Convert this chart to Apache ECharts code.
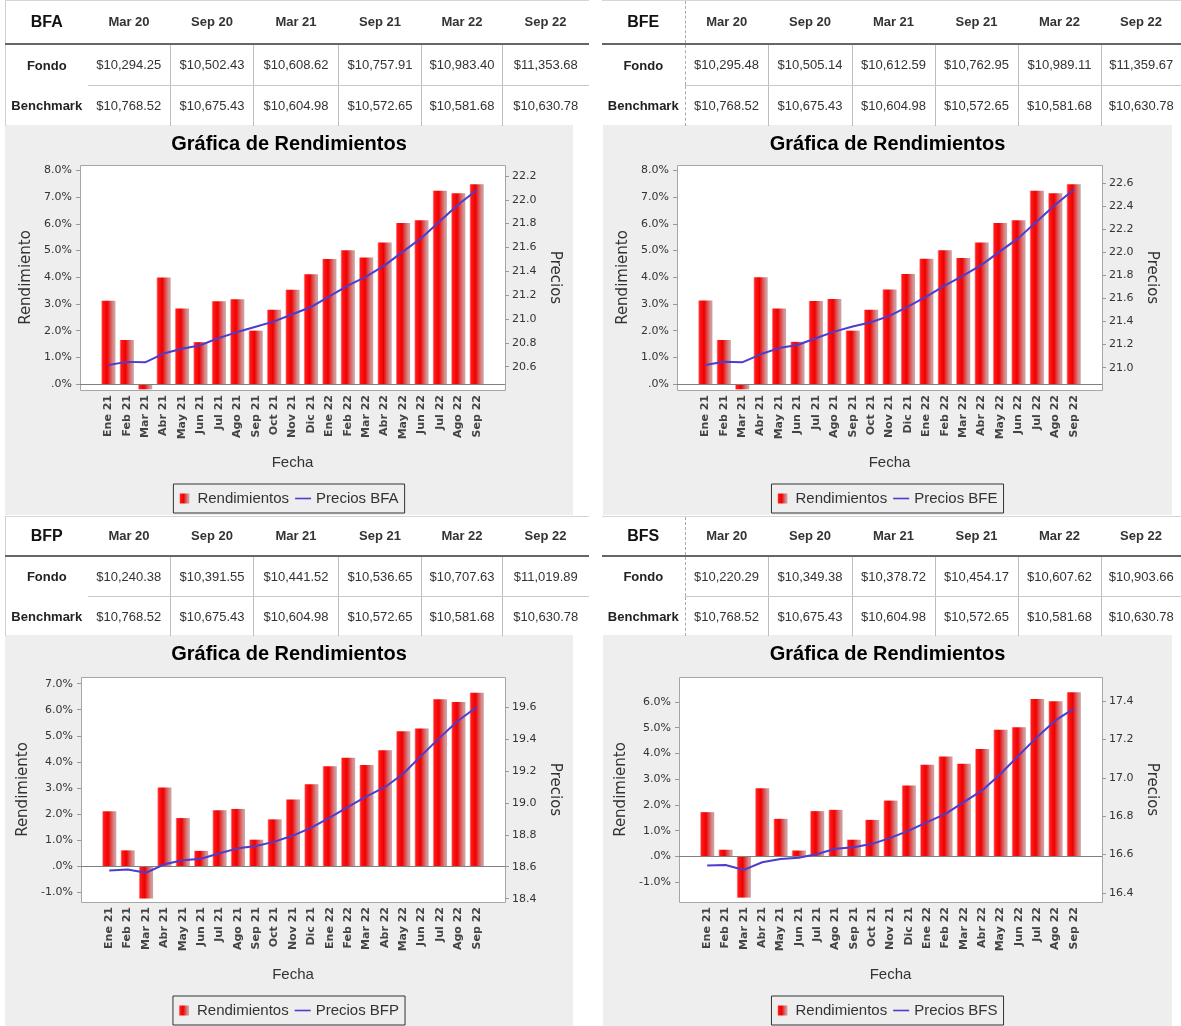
<!DOCTYPE html>
<html>
<head>
<meta charset="utf-8">
<title>Gráfica de Rendimientos</title>
<script src="https://cdn.jsdelivr.net/npm/echarts@6/dist/echarts.min.js"></script>
<style>
  body { margin: 0; width: 1181px; height: 1026px; background: #fff; position: relative; overflow: hidden;
         font-family: 'Liberation Sans', Arial, sans-serif; }
  .tabla { position: absolute; border-collapse: collapse; table-layout: fixed; color: #333; font-size: 13px; }
  .tabla th, .tabla td { padding: 0; text-align: center; white-space: nowrap; }
  .tabla th { font-weight: bold; border-bottom: 2px solid #666; }
  .tabla th.nom { font-size: 16px; color: #111; }
  .tabla td.lbl { font-weight: bold; color: #222; }
  .tabla tr.r1 td.v { border-bottom: 1px solid #c8c8c8; }
  .tabla td.sep { border-left: 1px solid #bdbdbd; }
  .tabla .punt { border-left: 1px dashed #aaa; }
  .chart { position: absolute; }
</style>
</head>
<body>
<div id="cBFA" class="chart" style="left:5px;top:125px;width:568px;height:390px"></div>
<div id="cBFE" class="chart" style="left:603px;top:125px;width:569px;height:390px"></div>
<div id="cBFP" class="chart" style="left:5px;top:635px;width:568px;height:391px"></div>
<div id="cBFS" class="chart" style="left:603px;top:635px;width:569px;height:391px"></div>
<script>
function $(id) {return document.getElementById(id)}

// tablas
var periodos = ['Mar 20', 'Sep 20', 'Mar 21', 'Sep 21', 'Mar 22', 'Sep 22'];
var benchmark = [10768.52, 10675.43, 10604.98, 10572.65, 10581.68, 10630.78];
var fondoBFA = [10294.25, 10502.43, 10608.62, 10757.91, 10983.40, 11353.68];
var fondoBFE = [10295.48, 10505.14, 10612.59, 10762.95, 10989.11, 11359.67];
var fondoBFP = [10240.38, 10391.55, 10441.52, 10536.65, 10707.63, 11019.89];
var fondoBFS = [10220.29, 10349.38, 10378.72, 10454.17, 10607.62, 10903.66];

// graficas
var meses = ['Ene 21', 'Feb 21', 'Mar 21', 'Abr 21', 'May 21', 'Jun 21', 'Jul 21', 'Ago 21', 'Sep 21',
  'Oct 21', 'Nov 21', 'Dic 21', 'Ene 22', 'Feb 22', 'Mar 22', 'Abr 22', 'May 22', 'Jun 22',
  'Jul 22', 'Ago 22', 'Sep 22'];

var rendBFA = [3.12, 1.65, -0.2, 3.99, 2.83, 1.57, 3.10, 3.18, 2.00, 2.78, 3.53, 4.11, 4.69, 5.01, 4.74, 5.30, 6.04, 6.14, 7.24, 7.15, 7.49];
var precBFA = [20.614, 20.640, 20.636, 20.710, 20.750, 20.780, 20.840, 20.890, 20.935, 20.980, 21.040,
  21.100, 21.190, 21.280, 21.355, 21.450, 21.565, 21.680, 21.820, 21.960, 22.080];

var rendBFE = [3.13, 1.65, -0.2, 4.00, 2.83, 1.58, 3.11, 3.19, 2.00, 2.78, 3.54, 4.12, 4.70, 5.01, 4.72, 5.30, 6.04, 6.14, 7.24, 7.15, 7.49];
var precBFE = [21.023, 21.052, 21.046, 21.116, 21.170, 21.197, 21.255, 21.313, 21.357, 21.394, 21.450,
  21.530, 21.617, 21.713, 21.800, 21.893, 22.010, 22.125, 22.270, 22.414, 22.545];

var rendBFP = [2.10, 0.60, -1.25, 3.01, 1.84, 0.58, 2.14, 2.19, 1.01, 1.79, 2.55, 3.14, 3.83, 4.16, 3.88, 4.44, 5.17, 5.28, 6.40, 6.30, 6.65];
var precBFP = [18.577, 18.583, 18.562, 18.615, 18.640, 18.650, 18.684, 18.715, 18.730, 18.757, 18.795,
  18.845, 18.907, 18.974, 19.040, 19.098, 19.182, 19.297, 19.410, 19.516, 19.600];

var rendBFS = [1.72, 0.26, -1.60, 2.65, 1.46, 0.23, 1.76, 1.81, 0.65, 1.42, 2.17, 2.76, 3.56, 3.88, 3.60, 4.17, 4.92, 5.02, 6.12, 6.03, 6.38];
var precBFS = [16.543, 16.546, 16.520, 16.560, 16.577, 16.583, 16.603, 16.630, 16.638, 16.656, 16.687,
  16.725, 16.769, 16.812, 16.873, 16.934, 17.020, 17.117, 17.212, 17.299, 17.360];

// marcas de ejes
var ticksRend8 = [0, 1, 2, 3, 4, 5, 6, 7, 8];
var ticksRendP = [-1, 0, 1, 2, 3, 4, 5, 6, 7];
var ticksRendS = [-1, 0, 1, 2, 3, 4, 5, 6];
var ticksPrecA = [20.6, 20.8, 21.0, 21.2, 21.4, 21.6, 21.8, 22.0, 22.2];
var ticksPrecE = [21.0, 21.2, 21.4, 21.6, 21.8, 22.0, 22.2, 22.4, 22.6];
var ticksPrecP = [18.4, 18.6, 18.8, 19.0, 19.2, 19.4, 19.6];
var ticksPrecS = [16.4, 16.6, 16.8, 17.0, 17.2, 17.4];

function dinero(v) {
  var p = v.toFixed(2).split('.');
  return '$' + p[0].replace(/\B(?=(\d{3})+(?!\d))/g, ',') + '.' + p[1];
}

function tabla(nombre, fondo, x, y, anchos, altos, punteada) {
  var t = document.createElement('table');
  t.className = 'tabla';
  t.style.left = x + 'px';
  t.style.top = y + 'px';
  t.style.width = anchos.reduce(function (a, b) {return a + b}, 0) + 'px';
  if (!punteada) {
    t.style.borderLeft = '1px solid #cfcfcf';
  }
  t.style.borderTop = '1px solid #d6d6d6';
  var h = '<colgroup>' + anchos.map(function (w) {return '<col style="width:' + w + 'px">'}).join('') + '</colgroup>';
  h += '<tr style="height:' + altos[0] + 'px"><th class="nom">' + nombre + '</th>';
  periodos.forEach(function (p, i) {
    h += '<th' + (i === 0 && punteada ? ' class="punt"' : '') + '>' + p + '</th>';
  });
  h += '</tr>';
  [['Fondo', fondo, 'r1'], ['Benchmark', benchmark, 'r2']].forEach(function (fila, k) {
    h += '<tr class="' + fila[2] + '" style="height:' + altos[k + 1] + 'px"><td class="lbl">' + fila[0] + '</td>';
    fila[1].forEach(function (v, i) {
      var c = 'v' + (i > 0 ? ' sep' : '') + (i === 0 && punteada ? ' punt' : '');
      h += '<td class="' + c + '">' + dinero(v) + '</td>';
    });
    h += '</tr>';
  });
  t.innerHTML = h;
  document.body.appendChild(t);
}

var anchosIzq = [82, 83, 83, 85, 83, 81, 86];
var anchosDer = [83, 83, 84, 83, 83, 83, 80];
tabla('BFA', fondoBFA, 5, 0, anchosIzq, [43, 42, 40], false);
tabla('BFE', fondoBFE, 602, 0, anchosDer, [43, 42, 40], true);
tabla('BFP', fondoBFP, 5, 516, anchosIzq, [39, 41, 39], false);
tabla('BFS', fondoBFS, 602, 516, anchosDer, [39, 41, 39], true);

var colorLinea = '#4c3ccf';
var degradado = new echarts.graphic.LinearGradient(0, 0, 1, 0, [
  {offset: 0, color: '#ffb4b4'},
  {offset: 0.1, color: '#ff1a1a'},
  {offset: 0.42, color: '#f00000'},
  {offset: 0.62, color: '#e04646'},
  {offset: 0.85, color: '#d68e8e'},
  {offset: 1, color: '#c9a6a6'}
]);

function pct(v) {
  return (v === 0 ? '.0' : v.toFixed(1)) + '%';
}

function grafica(id, rend, prec, tRend, tPrec, rangoR, rangoP, marco) {
  var m = marco[2] * 0.045;
  var chart = echarts.init($('c' + id));
  chart.setOption({
    backgroundColor: '#eeeeee',
    animation: false,
    title: {
      text: 'Gráfica de Rendimientos',
      left: 'center',
      top: 4,
      textStyle: {fontFamily: 'Liberation Sans', fontWeight: 'bold', fontSize: 20, color: '#000'}
    },
    legend: {
      left: 'center',
      top: marco[1] + 319,
      backgroundColor: '#eeeeee',
      borderColor: '#333',
      borderWidth: 1,
      padding: [7, 6, 7, 6],
      itemGap: 6,
      itemWidth: 16,
      itemHeight: 10,
      textStyle: {fontFamily: 'Liberation Sans', fontSize: 15, color: '#333'},
      data: [
        {name: 'Rendimientos', icon: 'path://M0,0h10v10h-10z'},
        {name: 'Precios ' + id, icon: 'path://M0,0h16v1.6h-16z'}
      ]
    },
    graphic: [{
      type: 'rect',
      silent: true,
      z: 0,
      shape: {x: marco[0] + 0.5, y: marco[1] + 0.5, width: marco[2], height: marco[3]},
      style: {fill: '#fff', stroke: '#a6a6a6', lineWidth: 1}
    }],
    grid: {left: marco[0] + m, top: marco[1], width: marco[2] - 2 * m, height: marco[3]},
    xAxis: {
      type: 'category',
      data: meses,
      name: 'Fecha',
      nameLocation: 'middle',
      nameGap: 65,
      nameTextStyle: {fontFamily: 'Liberation Sans', fontSize: 15, color: '#333'},
      axisLine: {show: false},
      axisTick: {show: false},
      axisLabel: {rotate: 90, interval: 0, margin: 5, fontFamily: 'DejaVu Sans', fontWeight: 'bold', fontSize: 11, color: '#444'}
    },
    yAxis: [
      {
        type: 'value',
        min: rangoR[0],
        max: rangoR[1],
        offset: m,
        name: 'Rendimiento',
        nameLocation: 'middle',
        nameGap: 35,
        nameRotate: 90,
        nameTextStyle: {fontFamily: 'DejaVu Sans', fontSize: 15, color: '#333'},
        splitLine: {show: false},
        axisLine: {show: false},
        axisTick: {show: true, length: 4, customValues: tRend, lineStyle: {color: '#999'}},
        axisLabel: {customValues: tRend, formatter: pct, margin: 8, fontFamily: 'DejaVu Sans', fontSize: 11, color: '#333'}
      },
      {
        type: 'value',
        position: 'right',
        min: rangoP[0],
        max: rangoP[1],
        offset: m,
        name: 'Precios',
        nameLocation: 'middle',
        nameGap: 36,
        nameRotate: -90,
        nameTextStyle: {fontFamily: 'DejaVu Sans', fontSize: 15, color: '#333'},
        splitLine: {show: false},
        axisLine: {show: false},
        axisTick: {show: true, length: 4, customValues: tPrec, lineStyle: {color: '#999'}},
        axisLabel: {customValues: tPrec, formatter: function (v) {return v.toFixed(1)}, margin: 7, fontFamily: 'DejaVu Sans', fontSize: 11, color: '#333'}
      }
    ],
    series: [
      {
        name: 'Rendimientos',
        type: 'bar',
        data: rend,
        barWidth: '77%',
        itemStyle: {color: degradado},
        markLine: {
          silent: true,
          symbol: 'none',
          label: {show: false},
          lineStyle: {color: '#808080', width: 1, type: 'solid'},
          data: [[{x: marco[0], yAxis: 0}, {x: marco[0] + marco[2], yAxis: 0}]]
        }
      },
      {
        name: 'Precios ' + id,
        type: 'line',
        yAxisIndex: 1,
        data: prec,
        symbol: 'none',
        z: 5,
        lineStyle: {color: colorLinea, width: 2},
        itemStyle: {color: colorLinea}
      }
    ]
  });
}

grafica('BFA', rendBFA, precBFA, ticksRend8, ticksPrecA, [-0.225, 8.21], [20.404, 22.292], [75, 40, 425, 225]);
grafica('BFE', rendBFE, precBFE, ticksRend8, ticksPrecE, [-0.225, 8.21], [20.806, 22.76], [74, 40, 425, 225]);
grafica('BFP', rendBFP, precBFP, ticksRendP, ticksPrecP, [-1.383, 7.256], [18.379, 19.788], [76, 42, 424, 225]);
grafica('BFS', rendBFS, precBFS, ticksRendS, ticksPrecS, [-1.77, 6.97], [16.353, 17.525], [76, 42, 423, 225]);
</script>
</body>
</html>
